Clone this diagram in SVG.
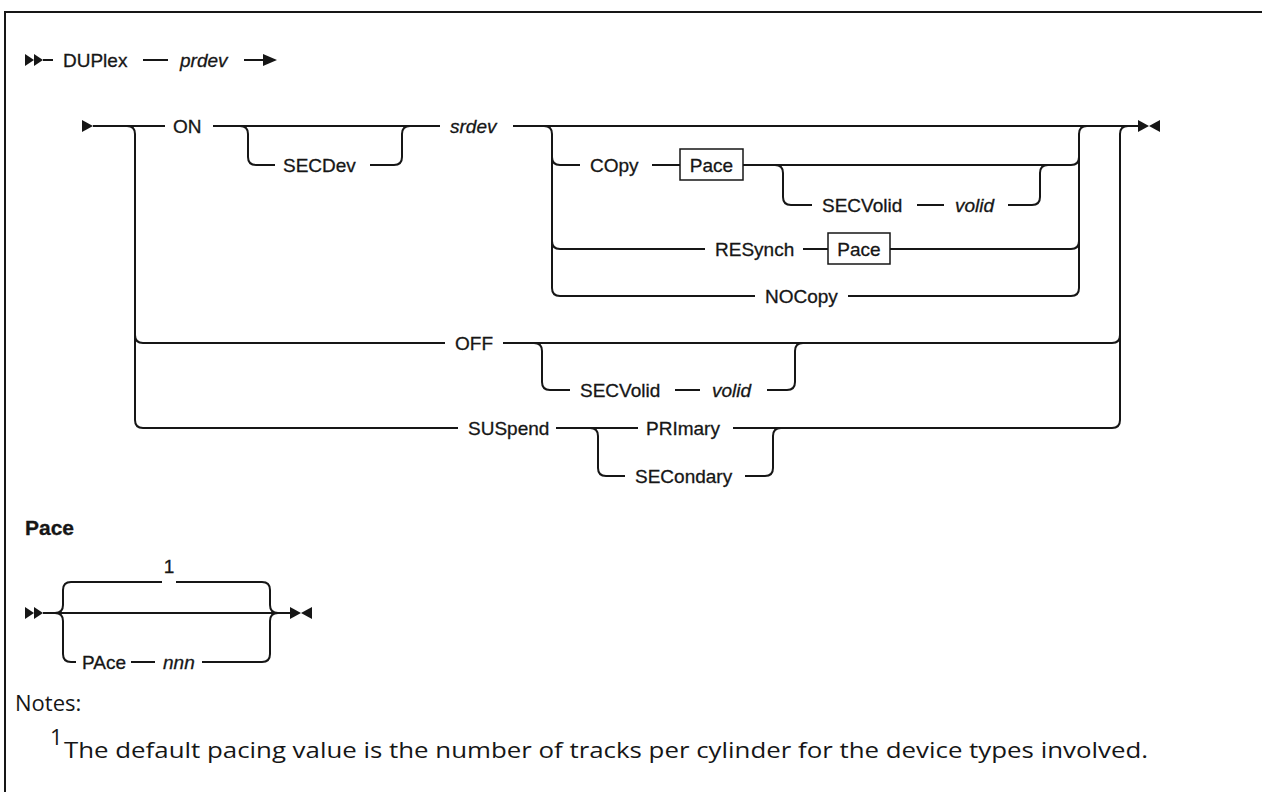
<svg xmlns="http://www.w3.org/2000/svg" width="1262" height="792" viewBox="0 0 1262 792">
<style>
.t{font-family:"Liberation Sans",Arial,sans-serif;font-size:19px;fill:#161616;stroke:#161616;stroke-width:0.3}
.i{font-style:italic}
.b{font-weight:bold;font-size:21px}
.ln{fill:none;stroke:#161616;stroke-width:2}
.ah{fill:#161616}
.box{fill:#fff;stroke:#161616;stroke-width:1.5}
.n{font-family:"Open Sans","Liberation Sans",sans-serif;font-size:22px;fill:#161616}
</style>
<rect x="5" y="12" width="1300" height="900" fill="none" stroke="#161616" stroke-width="2"/>
<g id="connectors">
<path class="ln" d="M43,60 H53 M143,60 H168 M244,60 H265"/>
<polygon class="ah" points="25,54 34,60 25,66"/>
<polygon class="ah" points="34,54 43,60 34,66"/>
<polygon class="ah" points="263,54 277,60 263,66"/>
<polygon class="ah" points="82,120 93,126 82,132"/>
<path class="ln" d="M93,126 H165 M213,126 H440 M513,126 H1138"/>
<polygon class="ah" points="1138,120 1149,126 1138,132"/>
<polygon class="ah" points="1160,120 1149,126 1160,132"/>
<path class="ln" d="M127,126 Q135,126 135,134 V420 Q135,428 143,428 H458 M135,335 Q135,343 143,343 H445"/>
<path class="ln" d="M503,343 H1112 Q1120,343 1120,335 V134 Q1120,126 1128,126 M733,428 H1112 Q1120,428 1120,420 V335"/>
<path class="ln" d="M240,126 Q248,126 248,134 V157 Q248,165 256,165 H275 M370,165 H394 Q402,165 402,157 V134 Q402,126 410,126"/>
<path class="ln" d="M544,126 Q552,126 552,134 V288 Q552,296 560,296 H755 M552,157 Q552,165 560,165 H580 M552,241 Q552,249 560,249 H705"/>
<path class="ln" d="M848,296 H1071 Q1079,296 1079,288 V134 Q1079,126 1087,126 M743,165 H1071 Q1079,165 1079,157 M890,249 H1071 Q1079,249 1079,241"/>
<path class="ln" d="M652,165 H680"/>
<path class="ln" d="M775,165 Q783,165 783,173 V197 Q783,205 791,205 H812 M917,205 H944 M1008,205 H1032 Q1040,205 1040,197 V173 Q1040,165 1048,165"/>
<path class="ln" d="M803,249 H828"/>
<path class="ln" d="M534,343 Q542,343 542,351 V382 Q542,390 550,390 H570 M675,390 H700 M767,390 H787 Q795,390 795,382 V351 Q795,343 803,343"/>
<path class="ln" d="M556,428 H638 M590,428 Q598,428 598,436 V468 Q598,476 606,476 H625 M745,476 H765 Q773,476 773,468 V436 Q773,428 781,428"/>
<polygon class="ah" points="25,607 34,613 25,619"/>
<polygon class="ah" points="34,607 43,613 34,619"/>
<path class="ln" d="M43,613 H290"/>
<path class="ln" d="M55,613 Q63,613 63,605 V590 Q63,582 71,582 H162 M176,582 H262 Q270,582 270,590 V605 Q270,613 278,613 M55,613 Q63,613 63,621 V654 Q63,662 71,662 H76 M262,662 Q270,662 270,654 V621 Q270,613 278,613 M131,662 H155 M202,662 H262"/>
<polygon class="ah" points="290,607 301,613 290,619"/>
<polygon class="ah" points="312,607 301,613 312,619"/>
</g>
<g id="n-duplex"><text class="t" x="63" y="67">DUPlex</text></g>
<g id="n-prdev"><text class="t i" x="180" y="67">prdev</text></g>
<g id="n-on"><text class="t" x="173" y="133">ON</text></g>
<g id="n-secdev"><text class="t" x="283" y="172">SECDev</text></g>
<g id="n-srdev"><text class="t i" x="450" y="133">srdev</text></g>
<g id="n-copy"><text class="t" x="590" y="172">COpy</text></g>
<g id="n-pace1"><rect class="box" x="680" y="149" width="63" height="31"/><text class="t" x="711.5" y="172" text-anchor="middle">Pace</text></g>
<g id="n-secvolid1"><text class="t" x="822" y="212">SECVolid</text><text class="t i" x="955" y="212">volid</text></g>
<g id="n-resynch"><text class="t" x="715" y="256">RESynch</text></g>
<g id="n-pace2"><rect class="box" x="828" y="233" width="62" height="31"/><text class="t" x="859" y="256" text-anchor="middle">Pace</text></g>
<g id="n-nocopy"><text class="t" x="765" y="303">NOCopy</text></g>
<g id="n-off"><text class="t" x="455" y="350">OFF</text></g>
<g id="n-secvolid2"><text class="t" x="580" y="397">SECVolid</text><text class="t i" x="712" y="397">volid</text></g>
<g id="n-suspend"><text class="t" x="468" y="435">SUSpend</text></g>
<g id="n-primary"><text class="t" x="646" y="435">PRImary</text></g>
<g id="n-secondary"><text class="t" x="635" y="483">SECondary</text></g>
<g id="n-pace-title"><text class="t b" x="25" y="535">Pace</text></g>
<g id="n-default"><text class="t" x="169" y="573" text-anchor="middle">1</text></g>
<g id="n-pace-opt"><text class="t" x="82" y="669">PAce</text><text class="t i" x="163" y="669">nnn</text></g>
<g id="n-notes"><text class="n" x="15" y="711">Notes:</text>
<text class="n" x="50" y="745" font-size="15">1</text>
<text class="n" x="64" y="758" textLength="1084" lengthAdjust="spacingAndGlyphs">The default pacing value is the number of tracks per cylinder for the device types involved.</text></g>
</svg>
